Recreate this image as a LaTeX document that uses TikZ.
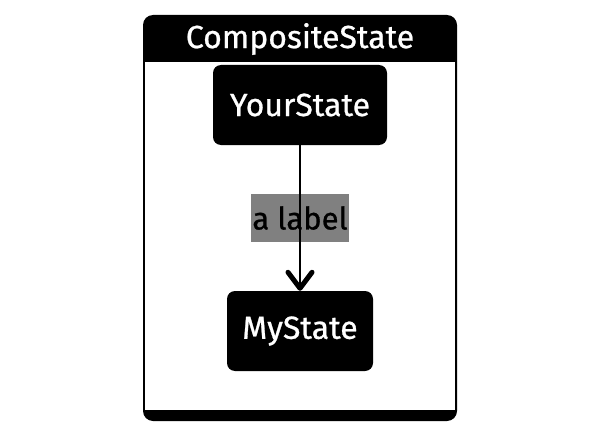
\documentclass[tikz,border=0pt]{standalone}
\usepackage{fontspec}
\setmainfont{Fira Sans}[FakeBold=0.8]
\usetikzlibrary{arrows.meta}

\tikzset{
  statebox/.style={draw=none, fill=black, text=white, rounded corners=8pt,
    inner sep=0pt, font=\fontsize{32}{38}\selectfont},
  edgelabel/.style={fill=gray, text=black, inner sep=0pt,
    minimum width=98pt, minimum height=48pt, font=\fontsize{31}{36}\selectfont}
}

\begin{document}
\begin{tikzpicture}[x=1pt, y=-1pt]
\useasboundingbox (0,0) rectangle (600,436);

% Composite frame
\coordinate (frameTL) at (143,15);
\coordinate (frameBR) at (457,421);
\fill[black, rounded corners=10pt] (frameTL) rectangle (frameBR);
\fill[white] (145,62) rectangle (455,410);
\node[text=white, font=\fontsize{32}{38}\selectfont] (title) at (300,39) {CompositeState};

% States
\node[statebox, minimum width=174pt, minimum height=80pt] (your) at (300,105) {YourState};
\node[statebox, minimum width=146pt, minimum height=80pt] (my) at (300,331) {MyState};

% Transition
\node[edgelabel] (lbl) at (300,218) {a label};
\draw[line width=2pt, -{Straight Barb[length=16pt, width=24pt, line width=5pt, round]}]
  (your) -- (my);
\end{tikzpicture}
\end{document}
